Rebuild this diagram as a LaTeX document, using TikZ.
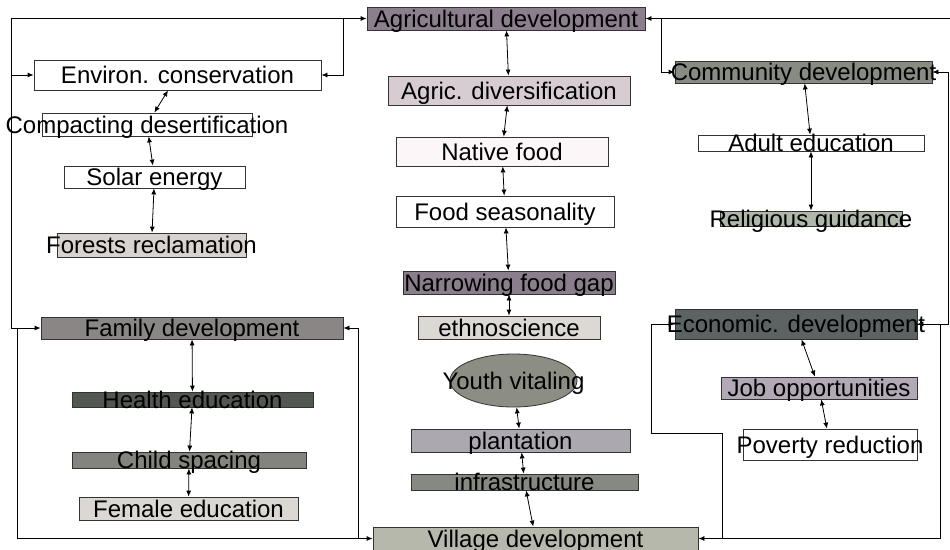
\documentclass[tikz,border=0pt]{standalone}
\usepackage{fontspec}
\setmainfont{Liberation Sans}
\usetikzlibrary{shapes.geometric,arrows.meta}
\definecolor{cAgri}{HTML}{8B7F8D}
\definecolor{cDiv}{HTML}{D6CCD2}
\definecolor{cNative}{HTML}{FCF6F8}
\definecolor{cGap}{HTML}{8A7D8C}
\definecolor{cEthno}{HTML}{DCD8D4}
\definecolor{cYouth}{HTML}{8D8E83}
\definecolor{cPlant}{HTML}{ABA9AF}
\definecolor{cInfra}{HTML}{868981}
\definecolor{cVillage}{HTML}{B6B8AC}
\definecolor{cForest}{HTML}{D8D3CF}
\definecolor{cFamily}{HTML}{8A8685}
\definecolor{cHealth}{HTML}{525752}
\definecolor{cChild}{HTML}{84847E}
\definecolor{cFemale}{HTML}{DBD7D3}
\definecolor{cComm}{HTML}{878B81}
\definecolor{cRelig}{HTML}{AEB7AA}
\definecolor{cEcon}{HTML}{5C6362}
\definecolor{cJob}{HTML}{B2A8B6}
\newcommand\lbl[1]{\makebox[0pt]{\raisebox{-8.6pt}[0pt][0pt]{#1}}}
\begin{document}
\begin{tikzpicture}[x=1pt,y=-1pt,line width=0.8pt,>={Latex[length=6pt,width=5pt]},
  stage/.style={draw=black!80,fill=white,inner sep=0pt,font=\fontsize{24}{28}\selectfont}]
\useasboundingbox (0,0) rectangle (950,549);
\node[stage,minimum width=278pt,minimum height=23pt,fill=cAgri] (agri) at (506,18.5) {\lbl{Agricultural development}};
\node[stage,minimum width=242pt,minimum height=29pt,fill=cDiv] (agdiv) at (509,90.5) {\lbl{Agric. diversification}};
\node[stage,minimum width=212pt,minimum height=29pt,fill=cNative] (native) at (502,151.5) {\lbl{Native food}};
\node[stage,minimum width=218pt,minimum height=31pt] (season) at (505,211.5) {\lbl{Food seasonality}};
\node[stage,minimum width=212pt,minimum height=23pt,fill=cGap] (gap) at (509,282.5) {\lbl{Narrowing food gap}};
\node[stage,minimum width=182pt,minimum height=23pt,fill=cEthno] (ethno) at (509,327.5) {\lbl{ethnoscience}};
\node[stage,ellipse,minimum width=127pt,minimum height=53pt,fill=cYouth] (youth) at (513.5,380.5) {\lbl{Youth vitaling}};
\node[stage,minimum width=219pt,minimum height=23pt,fill=cPlant] (plant) at (520.5,440.5) {\lbl{plantation}};
\node[stage,minimum width=227pt,minimum height=16pt,fill=cInfra] (infra) at (524.5,482) {\lbl{infrastructure}};
\node[stage,minimum width=325pt,minimum height=23pt,fill=cVillage] (village) at (535.5,538.5) {\lbl{Village development}};
\node[stage,minimum width=287pt,minimum height=30pt] (env) at (177.5,75) {\lbl{Environ. conservation}};
\node[stage,minimum width=210pt,minimum height=23pt] (desert) at (147,124.5) {\lbl{Compacting desertification}};
\node[stage,minimum width=181pt,minimum height=22pt] (solar) at (154.5,177) {\lbl{Solar energy}};
\node[stage,minimum width=189pt,minimum height=24pt,fill=cForest] (forest) at (151.5,245) {\lbl{Forests reclamation}};
\node[stage,minimum width=302pt,minimum height=22pt,fill=cFamily] (family) at (192,328) {\lbl{Family development}};
\node[stage,minimum width=241pt,minimum height=15pt,fill=cHealth] (health) at (192.5,399.5) {\lbl{Health education}};
\node[stage,minimum width=234pt,minimum height=16pt,fill=cChild] (child) at (189,460) {\lbl{Child spacing}};
\node[stage,minimum width=219pt,minimum height=23pt,fill=cFemale] (female) at (188.5,508.5) {\lbl{Female education}};
\node[stage,minimum width=257pt,minimum height=22pt,fill=cComm] (comm) at (803.5,72) {\lbl{Community development}};
\node[stage,minimum width=226pt,minimum height=16pt] (adult) at (811,143) {\lbl{Adult education}};
\node[stage,minimum width=182pt,minimum height=15pt,fill=cRelig] (relig) at (811,218.5) {\lbl{Religious guidance}};
\node[stage,minimum width=242pt,minimum height=30pt,fill=cEcon] (econ) at (796,324) {\lbl{Economic. development}};
\node[stage,minimum width=196pt,minimum height=22pt,fill=cJob] (job) at (819,388) {\lbl{Job opportunities}};
\node[stage,minimum width=174pt,minimum height=31pt] (poverty) at (830,444.5) {\lbl{Poverty reduction}};
\coordinate (lt) at (11,18.5);
\coordinate (mt) at (343,18.5);
\coordinate (rt) at (661,18.5);
\coordinate (re) at (950,18.5);
\coordinate (rr) at (948,72);
\coordinate (rb) at (940,538.5);
\coordinate (el) at (651,433);
\coordinate (em) at (722,433);
\coordinate (fl) at (17,538.5);
\coordinate (fr) at (358,538.5);
\draw[<->] (agri) -- (agdiv);
\draw[<->] (agdiv) -- (native);
\draw[<->] (native) -- (season);
\draw[<->] (season) -- (gap);
\draw[<->] (gap) -- (ethno);
\draw[<->] (youth) -- (plant);
\draw[<->] (plant) -- (infra);
\draw[<->] (infra) -- (village);
\draw[<->] (env) -- (desert);
\draw[<->] (desert) -- (solar);
\draw[<->] (solar) -- (forest);
\draw[<->] (family) -- (health);
\draw[<->] (health) -- (child);
\draw[<->] (child) -- (female);
\draw[<->] (comm) -- (adult);
\draw[<->] (adult) -- (relig);
\draw[<->] (econ) -- (job);
\draw[<->] (job) -- (poverty);
\draw[<->] (family.west) -| (lt) -- (agri.west);
\draw[->] (lt |- env) -- (env.west);
\draw[->] (mt) |- (env.east);
\draw[<->] (agri.east) -- (rt) |- (comm.west);
\draw (rt) -- (re);
\draw[<->] (comm.east) -- (rr) |- (econ.east);
\draw (econ.east) -| (rb) -- (rb -| em);
\draw[<->] (econ.west) -| (el) -- (em) |- (village.east);
\draw[<->] (family.east) -| (fr) -- (village.west);
\draw (fl |- family) -- (fl) -- (fr);
\end{tikzpicture}
\end{document}
